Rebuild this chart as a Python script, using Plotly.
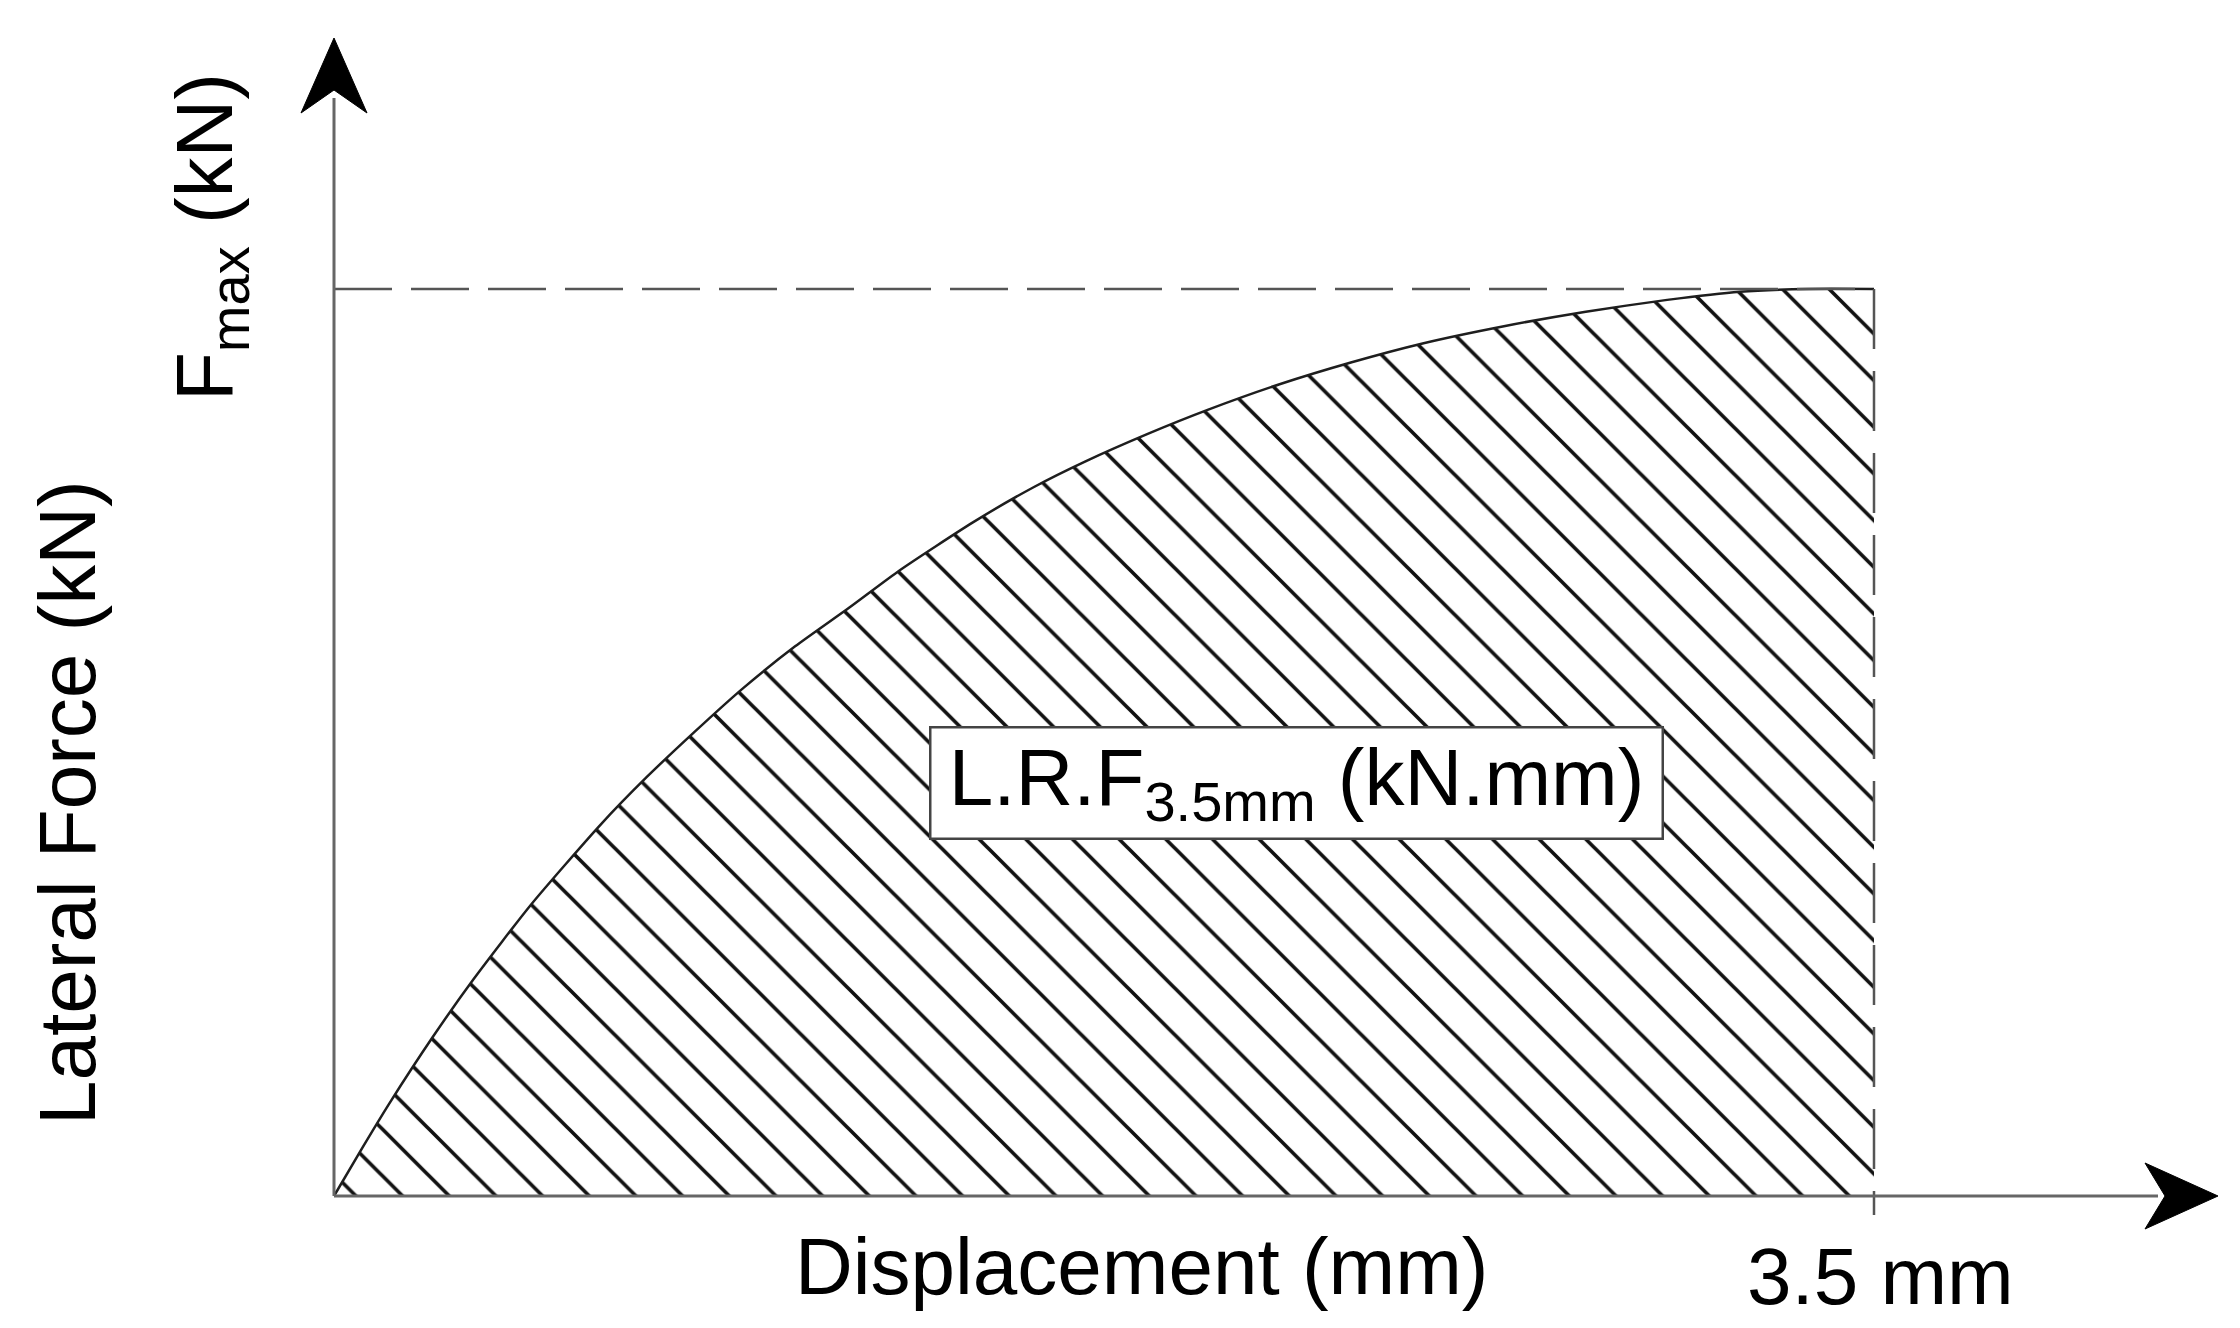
import plotly.graph_objects as go

# ---- data ----
disp_mm = [0.0, 0.063, 0.127, 0.224, 0.317, 0.449, 0.605, 0.711, 0.820,
           0.930, 1.048, 1.169, 1.286, 1.453, 1.592, 1.708, 1.848, 1.987, 2.149,
           2.311, 2.474, 2.659, 2.845, 3.030, 3.195, 3.35, 3.5]
force_rel = [0.0, 0.052, 0.103, 0.175, 0.239, 0.322, 0.409, 0.462, 0.512,
             0.560, 0.606, 0.648, 0.690, 0.743, 0.782, 0.810, 0.840, 0.867, 0.895,
             0.919, 0.940, 0.959, 0.975, 0.988, 0.997, 1.0, 1.0]
d_limit = 3.5          # mm
f_max = 1.0            # normalised Fmax
x_label = "Displacement (mm)"
y_label = "Lateral Force (kN)"
fmax_label = "F<sub>max</sub> (kN)"
limit_label = "3.5 mm"
area_label = ("<span style='font-size:48px'>&nbsp;</span>L.R.F<sub>3.5mm</sub> (kN.mm)"
              "<span style='font-size:48px'>&nbsp;</span>")

W, H = 2240, 1328
OFF = 8                      # page body margin
X0PX, Y0PX = 334 - OFF, 1196 - OFF   # pixel position of origin on the canvas
PX_X, PX_Y = 440.0, 907.0   # pixels per data unit
XR = [-X0PX / PX_X, (W - X0PX) / PX_X]
YR = [-(H - Y0PX) / PX_Y, Y0PX / PX_Y]

def dxp(p):
    return p / PX_X

def dyp(p):
    return p / PX_Y

FONT = "Liberation Sans, Arial, sans-serif"
AXC = "#666666"

fig = go.Figure()
# hatched area
fig.add_trace(go.Scatter(
    x=disp_mm, y=force_rel, mode="lines", line=dict(width=0, shape="spline", smoothing=0.6),
    fill="tozeroy", fillcolor="white",
    fillpattern=dict(shape="\\", size=33, solidity=0.11, fgcolor="#111111",
                     fgopacity=1, bgcolor="white", fillmode="replace"),
    hoverinfo="skip", showlegend=False))
# curve
fig.add_trace(go.Scatter(
    x=disp_mm, y=force_rel, mode="lines",
    line=dict(color="#1e1e1e", width=2.5, shape="spline", smoothing=0.6),
    hoverinfo="skip", showlegend=False))

shapes = []
# dashed Fmax line and dashed limit line
shapes.append(dict(type="line", x0=0, x1=d_limit, y0=f_max, y1=f_max,
                   line=dict(color="#555555", width=2.5, dash="58px,19px")))
shapes.append(dict(type="line", x0=d_limit, x1=d_limit, y0=f_max, y1=-dyp(19),
                   line=dict(color="#555555", width=2.5, dash="60px,22px")))
# axes
ytip = dyp(1196 - 38)
xtip = dxp(2218 - 334)
shapes.append(dict(type="line", x0=0, x1=0, y0=0, y1=ytip - dyp(60),
                   line=dict(color=AXC, width=3)))
shapes.append(dict(type="line", x0=0, x1=xtip - dxp(60), y0=0, y1=0,
                   line=dict(color=AXC, width=3)))
# arrow heads
ya = (f"M 0,{ytip} L {-dxp(33)},{ytip - dyp(75)} L 0,{ytip - dyp(52)} "
      f"L {dxp(33)},{ytip - dyp(75)} Z")
xa = (f"M {xtip},0 L {xtip - dxp(73)},{dyp(33)} L {xtip - dxp(53)},0 "
      f"L {xtip - dxp(73)},{-dyp(33)} Z")
for p in (ya, xa):
    shapes.append(dict(type="path", path=p, fillcolor="black", line=dict(color="black", width=1)))

ann = []
ann.append(dict(text=x_label, x=1141, y=1266, showarrow=False,
                font=dict(size=80, color="black", family=FONT)))
ann.append(dict(text=limit_label, x=1880, y=1276, showarrow=False,
                font=dict(size=80, color="black", family=FONT)))
ann.append(dict(text=y_label, x=67, y=803, textangle=-90, showarrow=False,
                font=dict(size=80, color="black", family=FONT)))
ann.append(dict(text=fmax_label, x=210, y=237, textangle=-90, showarrow=False,
                font=dict(size=80, color="black", family=FONT)))
ann.append(dict(text=area_label, x=1296, y=783, showarrow=False,
                bgcolor="white", bordercolor="#444444", borderwidth=2.5, borderpad=4,
                font=dict(size=80, color="black", family=FONT)))
for a in ann:
    a["xref"] = "paper"
    a["yref"] = "paper"
    a["x"] = (a["x"] - OFF) / W
    a["y"] = 1 - (a["y"] - OFF) / H
    a["xanchor"] = "center"
    a["yanchor"] = "middle"

fig.update_layout(
    width=W, height=H, margin=dict(l=0, r=0, t=0, b=0),
    paper_bgcolor="white", plot_bgcolor="white",
    xaxis=dict(range=XR, visible=False, fixedrange=True),
    yaxis=dict(range=YR, visible=False, fixedrange=True),
    shapes=shapes, annotations=ann, showlegend=False)

fig.write_html("out.html")
